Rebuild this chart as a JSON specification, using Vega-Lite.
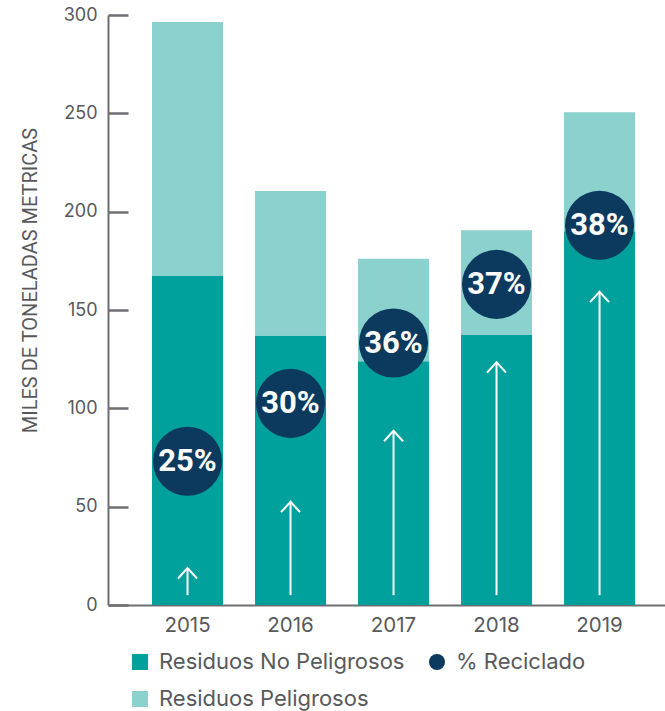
{
  "$schema": "https://vega.github.io/schema/vega-lite/v6.json",
  "autosize": {"type": "none"},
  "padding": {"left": 108, "top": 15, "right": 0, "bottom": 106},
  "width": 557,
  "height": 590,
  "background": "white",
  "config": {
    "view": {"stroke": null},
    "font": "Inter",
    "axis": {"grid": false, "domainColor": "#6d6e71", "domainWidth": 2, "labelColor": "#58595b", "labelFont": "Inter"}
  },
  "encoding": {
    "x": {
      "field": "anio", "type": "ordinal",
      "scale": {"domain": ["2015", "2016", "2017", "2018", "2019"], "paddingInner": 0.3107, "paddingOuter": 0.359, "align": 0.595},
      "axis": {"title": null, "ticks": false, "labelAngle": 0, "labelFontSize": 20.5, "labelPadding": 10, "domainWidth": 2}
    }
  },
  "layer": [
    {
      "data": {"values": [
        {"anio": "2015", "serie": "Residuos No Peligrosos", "orden": 1, "valor": 167.5},
        {"anio": "2015", "serie": "Residuos Peligrosos", "orden": 2, "valor": 129},
        {"anio": "2016", "serie": "Residuos No Peligrosos", "orden": 1, "valor": 137},
        {"anio": "2016", "serie": "Residuos Peligrosos", "orden": 2, "valor": 73.5},
        {"anio": "2017", "serie": "Residuos No Peligrosos", "orden": 1, "valor": 124},
        {"anio": "2017", "serie": "Residuos Peligrosos", "orden": 2, "valor": 52},
        {"anio": "2018", "serie": "Residuos No Peligrosos", "orden": 1, "valor": 137.5},
        {"anio": "2018", "serie": "Residuos Peligrosos", "orden": 2, "valor": 53},
        {"anio": "2019", "serie": "Residuos No Peligrosos", "orden": 1, "valor": 190},
        {"anio": "2019", "serie": "Residuos Peligrosos", "orden": 2, "valor": 60.5}
      ]},
      "mark": {"type": "bar"},
      "encoding": {
        "y": {
          "field": "valor", "type": "quantitative", "stack": "zero",
          "scale": {"domain": [0, 300], "nice": false},
          "axis": {
            "title": "MILES DE TONELADAS METRICAS",
            "titleFont": "Roboto", "titleFontSize": 20, "titleFontWeight": "normal", "titleColor": "#58595b",
            "titleAnchor": "middle", "titleAngle": -90, "titleBaseline": "alphabetic", "titleX": -72, "titleY": 265, "titleAlign": "center",
            "values": [0, 50, 100, 150, 200, 250, 300],
            "tickSize": -20, "tickWidth": 2.5, "tickColor": "#6d6e71",
            "labelFontSize": 18, "labelPadding": 31, "labelBaseline": "middle"
          }
        },
        "color": {
          "field": "serie", "type": "nominal",
          "scale": {"domain": ["Residuos No Peligrosos", "% Reciclado", "Residuos Peligrosos"], "range": ["#00A19C", "#0B3A5E", "#8BD1CD"]},
          "legend": {
            "title": null, "orient": "none", "direction": "horizontal", "legendX": 21, "legendY": 636, "columns": 2,
            "labelFont": "Inter", "labelFontSize": 22, "labelColor": "#58595b", "labelLimit": 400, "labelOffset": 8,
            "symbolSize": 256, "symbolStrokeWidth": 0, "columnPadding": 21, "rowPadding": 15,
            "symbolOpacity": 1,
            "encode": {"symbols": {"update": {"shape": {"signal": "datum.label === '% Reciclado' ? 'circle' : 'square'"}}}}
          }
        },
        "order": {"field": "orden", "type": "quantitative"}
      }
    },
    {
      "data": {"values": [
        {"anio": "2015", "base": 5, "punta": 18.8},
        {"anio": "2016", "base": 5, "punta": 52.5},
        {"anio": "2017", "base": 5, "punta": 88.6},
        {"anio": "2018", "base": 5, "punta": 123.5},
        {"anio": "2019", "base": 5, "punta": 159.3}
      ]},
      "mark": {"type": "rule", "color": "white", "strokeWidth": 2},
      "encoding": {
        "y": {"field": "base", "type": "quantitative"},
        "y2": {"field": "punta"}
      }
    },
    {
      "data": {"values": [
        {"anio": "2015", "punta": 18.8},
        {"anio": "2016", "punta": 52.5},
        {"anio": "2017", "punta": 88.6},
        {"anio": "2018", "punta": 123.5},
        {"anio": "2019", "punta": 159.3}
      ]},
      "mark": {"type": "point", "shape": "M-1,1.1L0,0L1,1.1", "filled": false, "stroke": "white", "strokeWidth": 2, "size": 361, "opacity": 1},
      "encoding": {
        "y": {"field": "punta", "type": "quantitative"}
      }
    },
    {
      "data": {"values": [
        {"anio": "2015", "serie": "% Reciclado", "pos": 73.1, "etiqueta": "25%"},
        {"anio": "2016", "serie": "% Reciclado", "pos": 102.5, "etiqueta": "30%"},
        {"anio": "2017", "serie": "% Reciclado", "pos": 133.2, "etiqueta": "36%"},
        {"anio": "2018", "serie": "% Reciclado", "pos": 163, "etiqueta": "37%"},
        {"anio": "2019", "serie": "% Reciclado", "pos": 193, "etiqueta": "38%"}
      ]},
      "layer": [
        {
          "mark": {"type": "point", "shape": "circle", "filled": true, "size": 4778, "opacity": 1},
          "encoding": {
            "y": {"field": "pos", "type": "quantitative"},
            "color": {
              "field": "serie", "type": "nominal",
              "scale": {"domain": ["Residuos No Peligrosos", "% Reciclado", "Residuos Peligrosos"], "range": ["#00A19C", "#0B3A5E", "#8BD1CD"]}
            }
          }
        },
        {
          "mark": {"type": "text", "font": "Roboto", "fontWeight": "bold", "fontSize": 31, "color": "white", "baseline": "middle", "align": "center", "dy": 1},
          "encoding": {
            "y": {"field": "pos", "type": "quantitative"},
            "text": {"field": "etiqueta"}
          }
        }
      ]
    }
  ]
}
